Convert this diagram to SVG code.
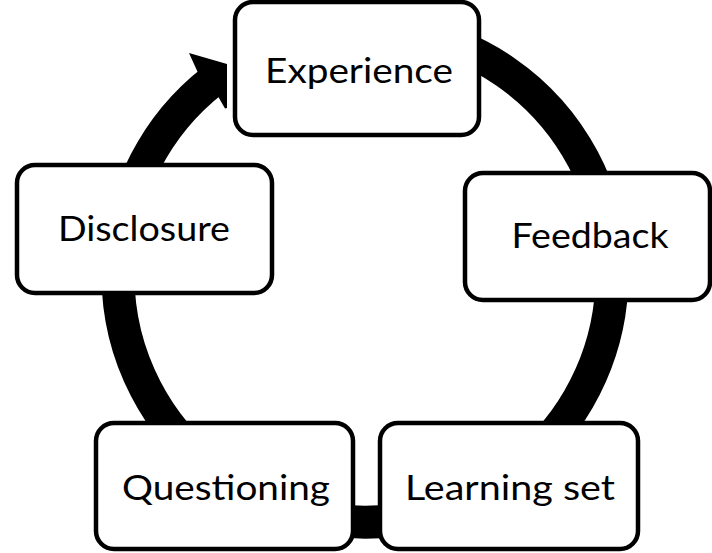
<svg xmlns="http://www.w3.org/2000/svg" width="712" height="553" viewBox="0 0 712 553">
<style>
.box{fill:#fff;stroke:#000;stroke-width:4.5}
.lbl{font-family:Lato,"Liberation Sans",sans-serif;font-size:35px;fill:#000;text-anchor:middle}
.ring{fill:none;stroke:#000;stroke-width:33}
</style>
<rect width="712" height="553" fill="#fff"/>
<g id="connectors">
<path class="ring" d="M 407.9 31.8 A 247 247 0 1 1 212.9 80.4"/>
<polygon points="197.4,71.6 189,53 227,64 227,108 225,108.5 218.4,97.1" fill="#000"/>
</g>
<g id="node-experience">
<rect class="box" x="235" y="2" width="244" height="133" rx="18"/>
<text class="lbl" x="359" y="83" textLength="188" lengthAdjust="spacingAndGlyphs">Experience</text>
</g>
<g id="node-feedback">
<rect class="box" x="465" y="173" width="245" height="127" rx="18"/>
<text class="lbl" x="590" y="248" textLength="157" lengthAdjust="spacingAndGlyphs">Feedback</text>
</g>
<g id="node-learning-set">
<rect class="box" x="380" y="423" width="258" height="126" rx="18"/>
<text class="lbl" x="510" y="500" textLength="210" lengthAdjust="spacingAndGlyphs">Learning set</text>
</g>
<g id="node-questioning">
<rect class="box" x="96" y="423" width="257" height="126" rx="18"/>
<text class="lbl" x="226" y="500" textLength="208" lengthAdjust="spacingAndGlyphs">Questioning</text>
</g>
<g id="node-disclosure">
<rect class="box" x="17" y="165" width="255" height="128" rx="18"/>
<text class="lbl" x="144" y="241" textLength="172" lengthAdjust="spacingAndGlyphs">Disclosure</text>
</g>
</svg>
